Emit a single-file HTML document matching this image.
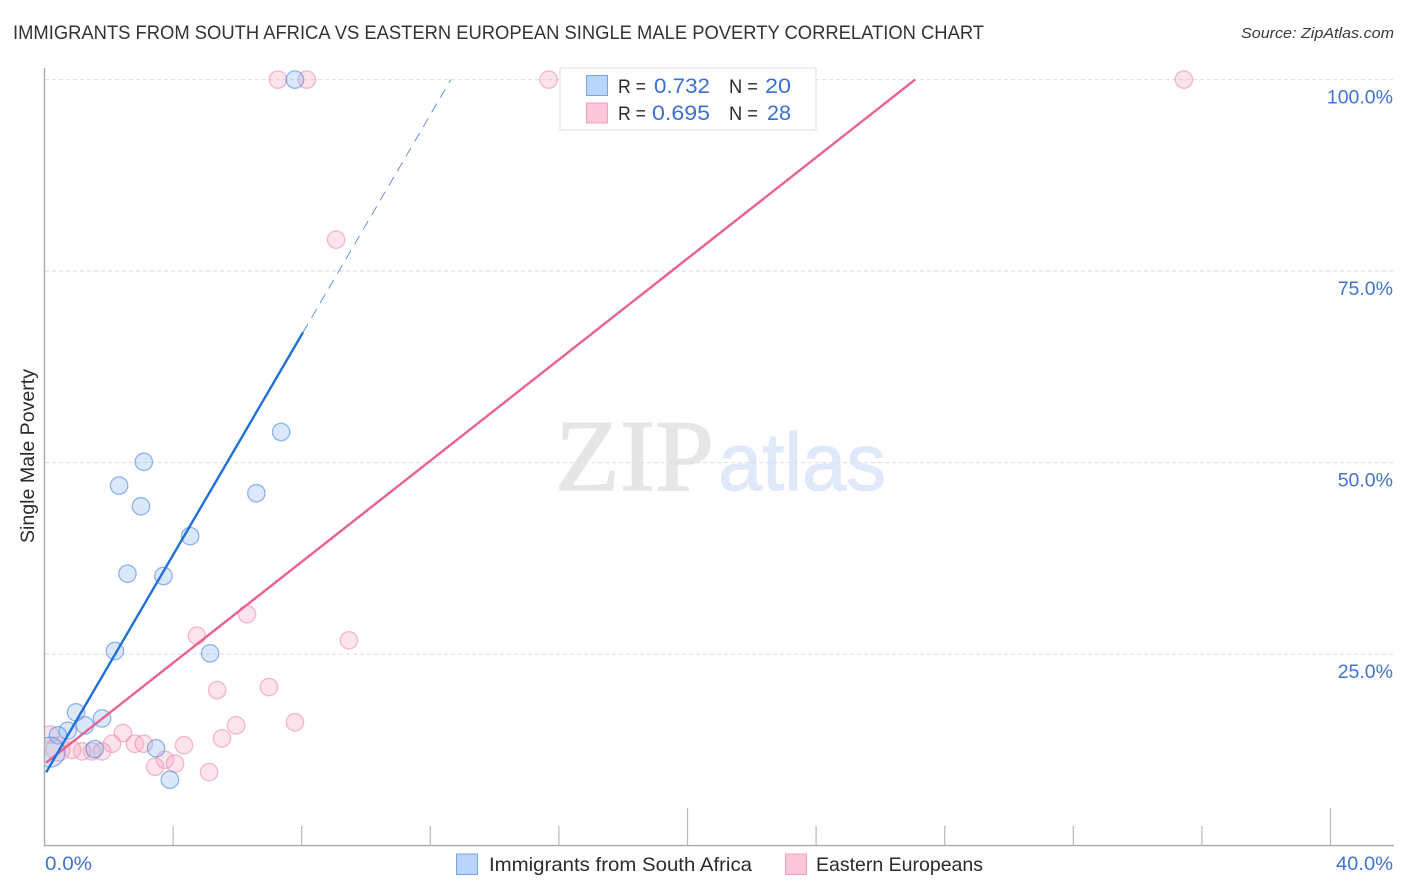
<!DOCTYPE html>
<html lang="en">
<head>
<meta charset="utf-8">
<title>Immigrants from South Africa vs Eastern European Single Male Poverty Correlation Chart</title>
<style>
html,body{margin:0;padding:0;background:#fff;width:1406px;height:892px;overflow:hidden}
svg{display:block;font-family:"Liberation Sans",sans-serif}
</style>
</head>
<body>
<svg id="chart" xmlns="http://www.w3.org/2000/svg" width="1406" height="892" viewBox="0 0 1406 892">
<defs><clipPath id="plot-clip"><rect x="45" y="60" width="1349" height="786"/></clipPath></defs>
<text x="13" y="39" font-size="19" fill="#333337" textLength="971" lengthAdjust="spacingAndGlyphs">IMMIGRANTS FROM SOUTH AFRICA VS EASTERN EUROPEAN SINGLE MALE POVERTY CORRELATION CHART</text>
<text x="1241" y="38" font-size="15" font-style="italic" fill="#3a3a3e" textLength="153" lengthAdjust="spacingAndGlyphs">Source: ZipAtlas.com</text>
<g>
<text x="555" y="490" font-family="'Liberation Serif',serif" font-size="102" fill="#e6e6e6" stroke="#e6e6e6" stroke-width="1.4" textLength="159" lengthAdjust="spacingAndGlyphs">ZIP</text>
<text x="718" y="490" font-size="82" fill="#dfe9f9" stroke="#dfe9f9" stroke-width="1" textLength="168" lengthAdjust="spacingAndGlyphs">atlas</text>
</g>
<g id="grid"></g>
<g id="axes"></g>
<g id="pink-points" clip-path="url(#plot-clip)"></g>
<g id="blue-points" clip-path="url(#plot-clip)"></g>
<g id="trends"></g>
<g id="tick-labels"></g>
<text transform="translate(34 456) rotate(-90)" font-size="19" fill="#2b2b2f" text-anchor="middle" textLength="174" lengthAdjust="spacingAndGlyphs">Single Male Poverty</text>
<g>
<rect x="560" y="68" width="256" height="62" fill="#fff" stroke="#dcdcdc" stroke-width="1"/>
<rect x="586.5" y="75.5" width="21" height="20" fill="#b9d5fb" stroke="#76a5e6"/>
<rect x="586.5" y="103" width="21" height="20" fill="#fdc7d9" stroke="#f3a0bb"/>
<g font-size="19.5">
<text x="618" y="93" fill="#2b2b2f" textLength="28" lengthAdjust="spacingAndGlyphs">R =</text>
<text x="654" y="93" fill="#3a70d2" font-size="21" textLength="56" lengthAdjust="spacingAndGlyphs">0.732</text>
<text x="729" y="93" fill="#2b2b2f" textLength="29" lengthAdjust="spacingAndGlyphs">N =</text>
<text x="765" y="93" fill="#3a70d2" font-size="21" textLength="26" lengthAdjust="spacingAndGlyphs">20</text>
<text x="618" y="120" fill="#2b2b2f" textLength="28" lengthAdjust="spacingAndGlyphs">R =</text>
<text x="652" y="120" fill="#3a70d2" font-size="21" textLength="58" lengthAdjust="spacingAndGlyphs">0.695</text>
<text x="729" y="120" fill="#2b2b2f" textLength="29" lengthAdjust="spacingAndGlyphs">N =</text>
<text x="767" y="120" fill="#3a70d2" font-size="21" textLength="24" lengthAdjust="spacingAndGlyphs">28</text>
</g>
</g>
<g>
<rect x="456.5" y="854" width="21" height="20.5" fill="#b9d5fb" stroke="#76a5e6"/>
<text x="489" y="871" font-size="19.5" fill="#2b2b2f" textLength="263" lengthAdjust="spacingAndGlyphs">Immigrants from South Africa</text>
<rect x="785.5" y="854" width="21" height="20.5" fill="#fdc7d9" stroke="#f3a0bb"/>
<text x="816" y="871" font-size="19.5" fill="#2b2b2f" textLength="167" lengthAdjust="spacingAndGlyphs">Eastern Europeans</text>
</g>
</svg>
<script>
const blueX = [7.79,7.36,3.09,2.32,3.00,6.59,4.53,2.58,3.70,2.19,5.15,0.98,1.79,1.26,0.72,0.42,1.56,3.47,3.90,0.17];
const blueY = [100,54.0,50.1,47.0,44.3,46.0,40.4,35.5,35.2,25.4,25.1,17.4,16.6,15.7,15.0,14.4,12.6,12.7,8.6,12.2];
const blueWeight = [1,1,1,1,1,1,1,1,1,1,1,1,1,1,1,1,1,1,1,3];
const pinkX = [7.26,8.16,15.68,35.44,9.07,6.30,4.74,9.47,5.37,6.98,5.96,7.79,5.52,4.34,2.44,2.10,2.81,3.09,1.79,1.48,1.17,0.86,0.42,0.17,3.44,3.75,4.06,5.12];
const pinkY = [100,100,100,100,79.1,30.2,27.4,26.8,20.3,20.7,15.7,16.1,14.0,13.1,14.7,13.3,13.3,13.3,12.3,12.3,12.3,12.5,12.6,14.5,10.3,11.2,10.7,9.6];
const pinkWeight = [1,1,1,1,1,1,1,1,1,1,1,1,1,1,1,1,1,1,1,1,1,1,2,1,1,1,1,1];
const blueTrendX = [0.05,8.04];
const blueTrendY = [9.55,67];
const blueDashX = [8.04,12.64];
const blueDashY = [67,100];
const pinkTrendX = [0.05,27.08];
const pinkTrendY = [10.82,100];
const yTicks = [25,50,75,100];
const yTickLabels = ["25.0%","50.0%","75.0%","100.0%"];
const xTicks = [4,8,12,16,20,24,28,32,36,40];
const xMajor = [20,40];
const xEndTicks = [0,40];
const xEndLabels = ["0.0%","40.0%"];

const NS = "http://www.w3.org/2000/svg";
function sx(v){return 44.5 + v * 32.15;}
function sy(v){return 845.6 - v * 7.66;}
function radius(w){return w === 1 ? 8.7 : (w === 2 ? 12 : 15);}
function make(parent, tag, attrs){
  const el = document.createElementNS(NS, tag);
  for (const k in attrs) el.setAttribute(k, attrs[k]);
  parent.appendChild(el);
  return el;
}
const gridG = document.getElementById("grid");
yTicks.forEach(function(t){
  const l = make(gridG, "line", {x1:45, x2:1393, y1:sy(t), y2:sy(t), stroke:"#dedede", "stroke-width":1, "stroke-dasharray":"4 3"});
  
  
});
const axesG = document.getElementById("axes");
const yAxis = make(axesG, "line", {x1:44.5, x2:44.5, y1:68, y2:846, stroke:"#aaaaaa", "stroke-width":1.4});


const xAxis = make(axesG, "line", {x1:44, x2:1394, y1:845.6, y2:845.6, stroke:"#aaaaaa", "stroke-width":1.4});


xTicks.forEach(function(t){
  const tall = xMajor.indexOf(t) >= 0;
  const tk = make(axesG, "line", {x1:sx(t), x2:sx(t), y1:tall ? 808 : 826, y2:845.6, stroke:"#b8b8b8", "stroke-width":1.2});
  
  
});
function drawPoints(id, xs, ys, ws, fill, stroke, name){
  const g = document.getElementById(id);
  xs.forEach(function(x, i){
    const c = make(g, "circle", {cx:sx(x), cy:sy(ys[i]), r:radius(ws[i]), fill:fill, "fill-opacity":0.32, stroke:stroke, "stroke-opacity":0.55, "stroke-width":1.3});
    
    
  });
}
drawPoints("pink-points", pinkX, pinkY, pinkWeight, "#f8a9c2", "#ea86a8", "eastern-europeans-point");
drawPoints("blue-points", blueX, blueY, blueWeight, "#8db8ee", "#3f7fd8", "south-africa-point");
const trendG = document.getElementById("trends");
const t1 = make(trendG, "line", {x1:sx(pinkTrendX[0]), y1:sy(pinkTrendY[0]), x2:sx(pinkTrendX[1]), y2:sy(pinkTrendY[1]), stroke:"#e9628f", "stroke-width":2.4});


const t2 = make(trendG, "line", {x1:sx(blueTrendX[0]), y1:sy(blueTrendY[0]), x2:sx(blueTrendX[1]), y2:sy(blueTrendY[1]), stroke:"#2170d8", "stroke-width":2.4});


const t3 = make(trendG, "line", {x1:sx(blueDashX[0]), y1:sy(blueDashY[0]), x2:sx(blueDashX[1]), y2:sy(blueDashY[1]), stroke:"#5a86d6", "stroke-width":0.9, "stroke-dasharray":"10 7"});


const labelG = document.getElementById("tick-labels");
yTicks.forEach(function(t, i){
  const lb = make(labelG, "text", {x:1393, y:sy(t) + 24, "font-size":19.5, fill:"#3f74d4", "text-anchor":"end"});
  lb.textContent = yTickLabels[i];
  
  
});
xEndTicks.forEach(function(t, i){
  const lb = make(labelG, "text", {x:t === 0 ? 45 : 1336, y:870, "font-size":19.5, fill:"#3f74d4", textLength:t === 0 ? 47 : 57, lengthAdjust:"spacingAndGlyphs"});
  lb.textContent = xEndLabels[i];
  
  
});
</script>
</body>
</html>
